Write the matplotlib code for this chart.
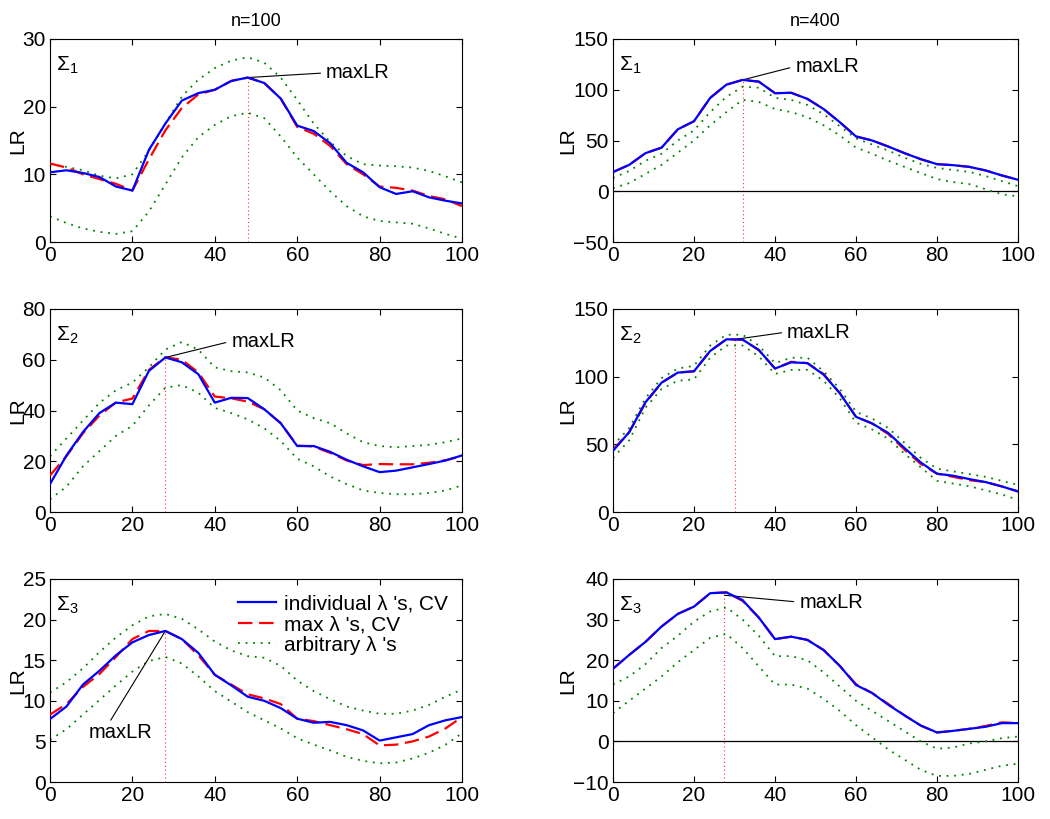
import numpy as np
import matplotlib
matplotlib.use("Agg")
import matplotlib.pyplot as plt

plt.rcParams['font.family'] = ['Liberation Sans', 'DejaVu Sans']
plt.rcParams['mathtext.fontset'] = 'custom'
plt.rcParams['mathtext.rm'] = 'Liberation Sans'
plt.rcParams['mathtext.it'] = 'Liberation Sans:italic'

lam = list(range(0, 101, 4))

# ---- n=100, Sigma1
p1_ind = [10.3, 10.6, 10.2, 9.6, 8.2, 7.6, 13.6, 17.5, 20.9, 22.0, 22.5, 23.8, 24.3, 23.5, 21.2, 17.2, 16.4, 14.6, 11.7, 10.3, 8.1, 7.1, 7.5, 6.6, 6.1, 5.7]
p1_max = [11.6, 11.0, 10.0, 9.3, 8.6, 7.6, 12.2, 16.5, 19.8, 21.8, 22.5, 23.8, 24.3, 23.5, 21.2, 17.0, 16.0, 14.2, 11.5, 10.0, 8.2, 8.0, 7.6, 6.8, 6.3, 5.3]
p1_arb_hi = [11.5, 11.1, 10.6, 9.8, 9.4, 10.0, 13.5, 17.5, 21.5, 24.0, 25.7, 26.8, 27.3, 26.5, 24.3, 21.0, 17.5, 14.8, 12.7, 11.5, 11.3, 11.2, 11.0, 10.5, 9.7, 8.8]
p1_arb_lo = [3.8, 2.8, 2.0, 1.5, 1.2, 1.6, 4.5, 8.5, 12.5, 15.5, 17.3, 18.6, 19.1, 18.3, 15.6, 12.5, 10.0, 7.5, 5.3, 3.8, 3.1, 2.9, 2.7, 2.0, 1.2, 0.5]

# ---- n=400, Sigma1
p2_ind = [18.9, 26.0, 37.5, 43.0, 61.0, 69.0, 92.0, 105.0, 109.7, 108.0, 96.6, 97.0, 91.0, 81.0, 68.0, 54.0, 50.0, 44.0, 37.5, 31.6, 26.7, 25.7, 24.0, 20.5, 15.6, 11.3]
p2_max = [18.9, 26.0, 37.5, 43.0, 61.0, 69.0, 92.0, 105.0, 109.7, 108.0, 96.6, 97.0, 91.0, 81.0, 68.0, 54.0, 50.0, 44.0, 37.5, 31.6, 26.7, 25.7, 24.0, 20.5, 15.6, 11.3]
p2_arb_hi = [13, 20, 30, 37, 50, 60, 78, 93, 103, 102, 92, 90, 85, 76, 64, 52, 46, 40, 33, 27, 23, 21, 19, 15, 10, 5]
p2_arb_lo = [3, 8, 17, 26, 38, 50, 65, 78, 90, 88, 81, 78, 73, 65, 55, 43, 37, 30, 24, 18, 12, 9, 7, 2, -3, -5]

# ---- n=100, Sigma2
p3_ind = [11.0, 22.3, 31.5, 39.0, 43.1, 42.5, 55.6, 60.9, 59.0, 54.3, 43.1, 45.0, 44.9, 40.5, 35.0, 26.0, 26.0, 23.7, 20.6, 18.0, 15.7, 16.3, 17.6, 18.9, 20.3, 22.3]
p3_max = [14.4, 22.0, 31.0, 38.0, 43.2, 44.7, 56.0, 61.0, 60.0, 55.0, 45.5, 44.8, 43.5, 40.5, 35.0, 26.2, 25.8, 23.3, 20.3, 18.5, 18.9, 18.8, 18.8, 19.4, 20.4, 22.0]
p3_arb_hi = [22, 29, 36, 43, 48, 51, 57, 64, 67, 64, 57, 55.5, 55, 53, 48, 40, 37, 35, 31, 27.5, 26, 25.5, 26, 26.5, 27.5, 29]
p3_arb_lo = [5, 10, 18, 24, 30, 34, 42, 49, 50, 47, 41, 39, 36.5, 33, 28, 21, 18, 14, 11, 8.5, 7.5, 7, 7, 7.5, 8.5, 10.5]

# ---- n=400, Sigma2
p4_ind = [45.2, 59.0, 81.0, 95.6, 103.0, 104.0, 119.0, 127.6, 127.4, 119.7, 106.0, 110.6, 110.0, 101.5, 87.8, 70.3, 65.4, 58.3, 47.2, 36.6, 28.3, 26.8, 24.3, 22.1, 18.9, 15.2]
p4_max = [46.0, 59.0, 80.5, 95.6, 103.0, 104.0, 119.0, 127.6, 127.4, 119.7, 106.0, 111.0, 110.0, 102.0, 87.8, 70.3, 65.4, 57.5, 46.0, 35.5, 28.3, 26.0, 23.5, 22.1, 18.9, 15.2]
p4_arb_hi = [49, 62, 84, 99, 106, 108, 123, 131, 131, 123, 110, 114, 114, 104, 91, 74, 69, 62, 51, 40, 32, 30, 28, 26, 23, 20]
p4_arb_lo = [40, 53, 77, 91, 97, 98, 114, 123, 123, 115, 102, 105, 105, 97, 84, 66, 61, 54, 43, 33, 23, 21, 19, 16, 13, 9]

# ---- n=100, Sigma3
p5_ind = [7.75, 9.3, 12.0, 13.7, 15.6, 17.2, 18.1, 18.6, 17.6, 15.9, 13.2, 11.9, 10.5, 10.0, 9.1, 7.8, 7.3, 7.4, 7.0, 6.35, 5.1, 5.5, 5.9, 7.0, 7.6, 8.0]
p5_max = [8.3, 9.6, 11.7, 13.3, 15.4, 17.6, 18.6, 18.6, 17.6, 15.6, 13.2, 12.0, 10.8, 10.3, 9.6, 7.8, 7.5, 7.0, 6.5, 5.9, 4.5, 4.6, 5.0, 5.6, 6.6, 8.0]
p5_arb_hi = [11.0, 12.3, 14.0, 16.0, 17.8, 19.3, 20.4, 20.7, 20.1, 18.8, 17.3, 16.2, 15.5, 15.3, 14.3, 12.5, 11.2, 10.2, 9.3, 8.8, 8.4, 8.4, 8.8, 9.5, 10.5, 11.4]
p5_arb_lo = [5.2, 6.5, 8.3, 10.1, 11.9, 13.6, 14.9, 15.4, 14.6, 13.0, 11.2, 9.9, 8.6, 7.6, 6.6, 5.4, 4.6, 3.9, 3.1, 2.6, 2.3, 2.4, 2.9, 3.6, 4.6, 6.0]

# ---- n=400, Sigma3
p6_ind = [17.9, 21.3, 24.5, 28.3, 31.4, 33.2, 36.5, 36.7, 34.8, 30.5, 25.2, 25.8, 25.0, 22.5, 18.6, 13.9, 11.9, 9.0, 6.4, 3.9, 2.2, 2.6, 3.1, 3.6, 4.5, 4.5]
p6_max = [17.9, 21.3, 24.5, 28.3, 31.4, 33.2, 36.5, 36.7, 34.6, 30.5, 25.2, 25.8, 25.0, 22.5, 18.6, 14.1, 11.9, 9.2, 6.4, 3.9, 2.2, 2.6, 3.1, 3.8, 4.7, 4.5]
p6_arb_hi = [14, 16, 19, 23, 26, 29.5, 32, 33, 30, 26, 21, 21, 20, 17, 13.5, 10, 7.5, 5, 2.5, 0, -1.8, -1.5, -0.5, 0, 0.8, 1.2]
p6_arb_lo = [7.0, 10, 13, 16, 19.5, 22.5, 25.5, 26.5, 23, 18.5, 14, 14, 13, 10.5, 7.5, 4, 1, -2, -4.5, -7, -8.5, -8.5, -8, -7, -6, -5.5]

panels = [
    dict(ind=p1_ind, mx=p1_max, hi=p1_arb_hi, lo=p1_arb_lo, ylim=(0, 30), yticks=[0, 10, 20, 30],
         sig=r'$\Sigma_1$', peak=48, peakval=24.3, txt=(67, 25.0), title='n=100', zero=False),
    dict(ind=p2_ind, mx=p2_max, hi=p2_arb_hi, lo=p2_arb_lo, ylim=(-50, 150), yticks=[-50, 0, 50, 100, 150],
         sig=r'$\Sigma_1$', peak=32, peakval=109.7, txt=(45, 123), title='n=400', zero=True),
    dict(ind=p3_ind, mx=p3_max, hi=p3_arb_hi, lo=p3_arb_lo, ylim=(0, 80), yticks=[0, 20, 40, 60, 80],
         sig=r'$\Sigma_2$', peak=28, peakval=60.9, txt=(44, 67.3), title=None, zero=False),
    dict(ind=p4_ind, mx=p4_max, hi=p4_arb_hi, lo=p4_arb_lo, ylim=(0, 150), yticks=[0, 50, 100, 150],
         sig=r'$\Sigma_2$', peak=30, peakval=127.5, txt=(43, 133), title=None, zero=False),
    dict(ind=p5_ind, mx=p5_max, hi=p5_arb_hi, lo=p5_arb_lo, ylim=(0, 25), yticks=[0, 5, 10, 15, 20, 25],
         sig=r'$\Sigma_3$', peak=28, peakval=18.6, txt=(9.5, 6.1), title=None, zero=False),
    dict(ind=p6_ind, mx=p6_max, hi=p6_arb_hi, lo=p6_arb_lo, ylim=(-10, 40), yticks=[-10, 0, 10, 20, 30, 40],
         sig=r'$\Sigma_3$', peak=27.5, peakval=36.0, txt=(46, 34.3), title=None, zero=True),
]

W, H = 1050, 819
fig = plt.figure(figsize=(W / 100, H / 100), dpi=100)
lefts = [50 / W, 613 / W]
widths = [412 / W, 405 / W]
tops = [39, 309, 579]
ah = 203
FS = 15

for i, p in enumerate(panels):
    r, c = divmod(i, 2)
    ax = fig.add_axes([lefts[c], 1 - (tops[r] + ah) / H, widths[c], ah / H])
    ax.plot(lam, p['ind'], color='#0000ff', lw=1.6, zorder=4, label="individual \u03bb 's, CV")
    ax.plot(lam, p['mx'], color='#ff0000', lw=1.6, ls=(0, (6.5, 3)), zorder=3, label="max \u03bb 's, CV")
    ax.plot(lam, p['hi'], color='#008000', lw=1.3, ls=(0, (1, 3.2)), zorder=2, label="arbitrary \u03bb 's")
    ax.plot(lam, p['lo'], color='#008000', lw=1.3, ls=(0, (1, 3.2)), zorder=2)
    ax.vlines(p['peak'], p['ylim'][0], p['peakval'], colors='#ff3030', lw=0.8, linestyles=(0, (1, 2.5)), zorder=1)
    if p['zero']:
        ax.axhline(0, color='k', lw=0.9, zorder=1)
    ax.set_xlim(0, 100)
    ax.set_ylim(*p['ylim'])
    ax.set_xticks([0, 20, 40, 60, 80, 100])
    ax.set_yticks(p['yticks'])
    ax.tick_params(direction='in', top=True, right=True, labelsize=FS, length=4, width=0.8, pad=3)
    for s in ax.spines.values():
        s.set_linewidth(0.8)
    ax.set_ylabel('LR', fontsize=FS)
    ax.yaxis.set_label_coords(-0.055 if c == 0 else -0.088, 0.5)
    ax.text(0.015, 0.87, p['sig'], transform=ax.transAxes, fontsize=FS, va='center', ha='left')
    if p['title']:
        ax.set_title(p['title'], fontsize=13, pad=9)
    if i == 4:
        ax.annotate('maxLR', xy=(p['peak'], p['peakval']), xytext=p['txt'], fontsize=14.5,
                    ha='left', va='center',
                    arrowprops=dict(arrowstyle='-', color='k', lw=0.8, relpos=(0.33, 1.1), shrinkA=0, shrinkB=0))
        ax.legend(loc='upper right', bbox_to_anchor=(0.985, 0.965), frameon=False, fontsize=FS, handlelength=1.85,
                  borderaxespad=0.0, labelspacing=0.08, handletextpad=0.35)
    else:
        ax.annotate('maxLR', xy=(p['peak'], p['peakval']), xytext=p['txt'], fontsize=14.5,
                    ha='left', va='center',
                    arrowprops=dict(arrowstyle='-', color='k', lw=0.8, relpos=(0, 0.5), shrinkA=2, shrinkB=0))

fig.savefig('out.png', dpi=100)
